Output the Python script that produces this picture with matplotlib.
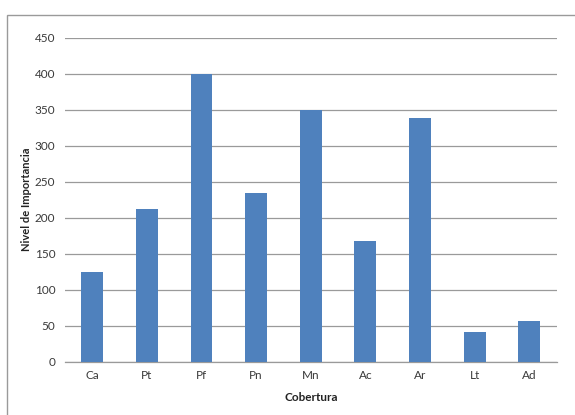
import matplotlib
matplotlib.use("Agg")
import matplotlib.pyplot as plt
from matplotlib.patches import Rectangle

categories = ["Ca", "Pt", "Pf", "Pn", "Mn", "Ac", "Ar", "Lt", "Ad"]
values = [124, 212, 400, 235, 350, 168, 338, 41, 57]
yticks = [0, 50, 100, 150, 200, 250, 300, 350, 400, 450]

plt.rcParams['font.family'] = ['Lato', 'DejaVu Sans']

fig = plt.figure(figsize=(5.75, 4.15), dpi=100)
fig.patch.set_facecolor("white")
ax = fig.add_axes([0.113, 0.1284, 0.855, 0.7806])

x = range(len(categories))
ax.bar(x, values, width=0.4, color="#4F81BD", zorder=3)

ax.set_xlim(-0.5, len(categories) - 0.5)
ax.set_ylim(0, 450)
ax.set_yticks(yticks)
ax.set_xticks(list(x))
ax.set_xticklabels(categories)

ax.grid(axis="y", color="#9a9a9a", linewidth=0.9, zorder=0)
for s in ["left", "right", "top"]:
    ax.spines[s].set_visible(False)
ax.spines["bottom"].set_color("#9a9a9a")
ax.spines["bottom"].set_linewidth(0.9)
ax.tick_params(axis="both", length=0, labelsize=8.5, colors="#3a3a3a")
ax.tick_params(axis="y", pad=7)
ax.tick_params(axis="x", pad=6)

ax.set_xlabel("Cobertura", fontsize=8.5, fontweight="bold", color="#222222", labelpad=8)
ax.set_ylabel("Nivel de Importancia", fontsize=8, fontweight="bold", color="#222222", labelpad=2)

# outer chart frame (top and left edges visible in the reference)
fig.patches.append(Rectangle((7 / 575, -0.1), 1.2, (415 - 14.7) / 415 + 0.1,
                             transform=fig.transFigure, fill=False,
                             edgecolor="#9a9a9a", linewidth=1.0))

fig.savefig("out.png", dpi=100, facecolor="white")
